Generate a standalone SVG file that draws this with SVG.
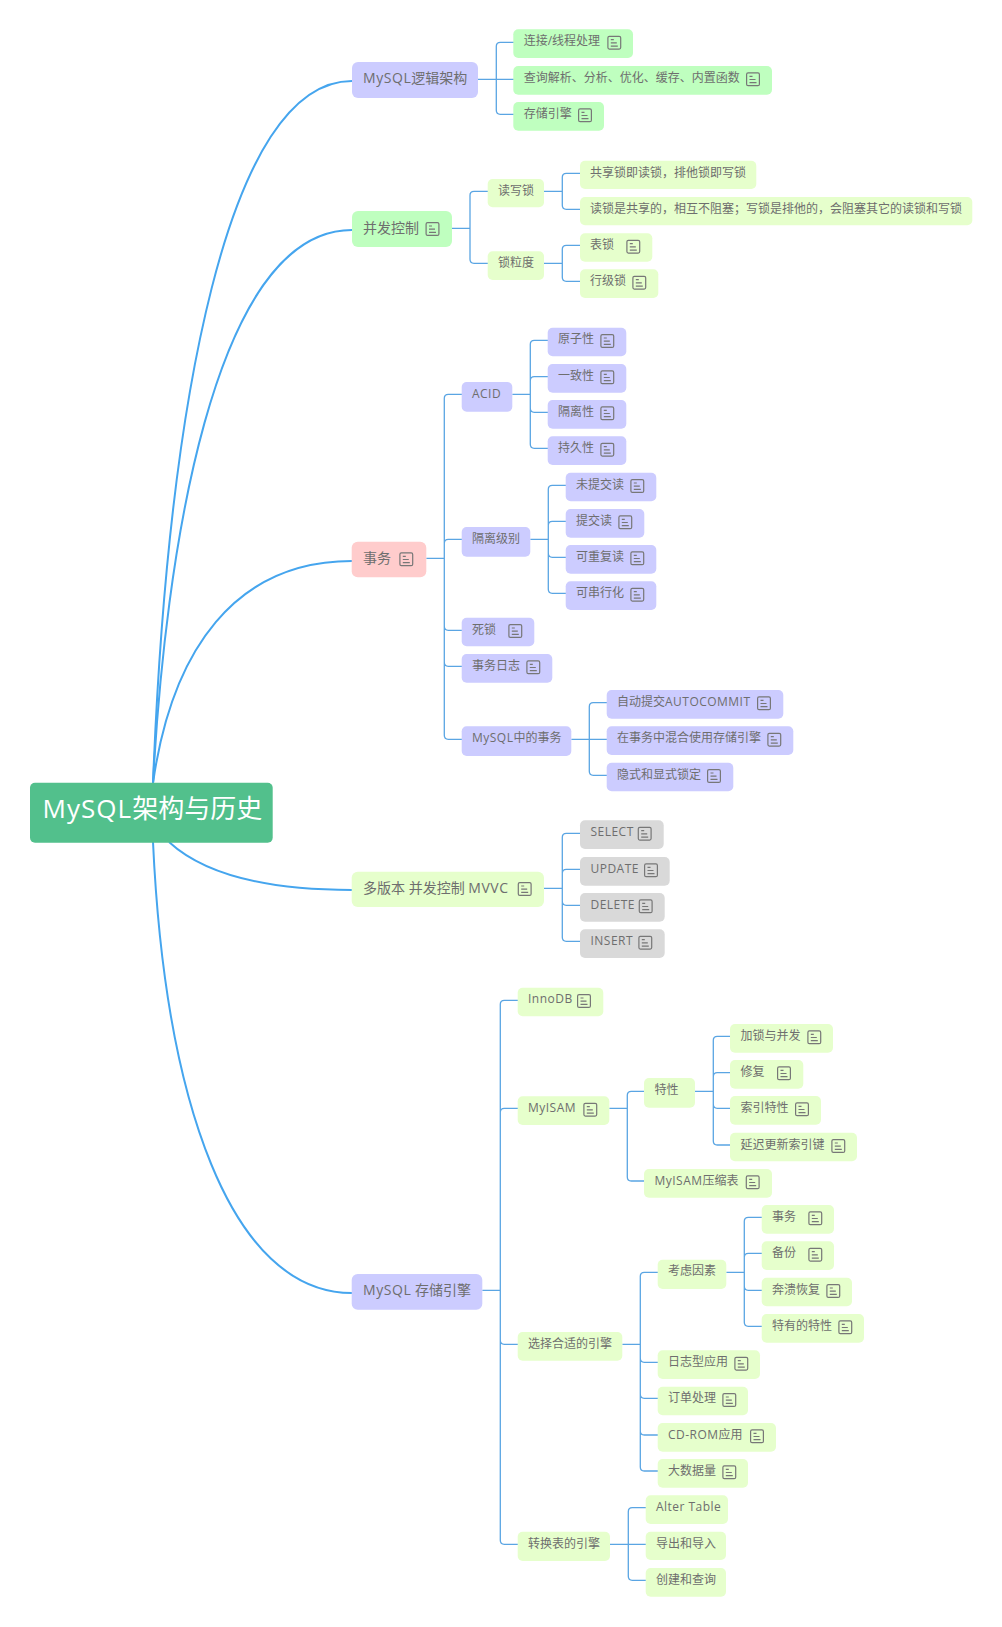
<svg xmlns="http://www.w3.org/2000/svg" width="1002" height="1627" viewBox="0 0 1002 1627">
<style>
text{font-family:"Open Sans","Noto Sans CJK SC","Liberation Sans",sans-serif;font-size:12px;fill:#6e6e6e}
.l1{font-size:14px}
.root{font-size:26px;fill:#fff}
.la{letter-spacing:.04em}
.pu{fill:#ccccff}.gr{fill:#bfffbf}.pk{fill:#ffcccc}.pg{fill:#e6ffcc}.gy{fill:#d9d9d9}.rt{fill:#52c08c}
#connectors path{fill:none;stroke:#5aa5e3;stroke-width:1.3}
#connectors .main{stroke:#45a5ee;stroke-width:2}
.ic{fill:none;stroke:#777;stroke-width:1.2}
</style>
<defs>
<g id="note"><rect class="ic" x=".6" y=".6" width="12.8" height="12.8" rx="1.5"/><path class="ic" d="M3.5 4H6.5M3.5 7.2H9.5M3.5 10.4H10.5"/></g>
</defs>
<rect width="1002" height="1627" fill="#fff"/>
<g id="connectors">
<path class="main" d="M153 783C168 400 228 81 352 81"/>
<path class="main" d="M153 783C165 560 212 230 352 230"/>
<path class="main" d="M153 783C172 650 235 561 352 561"/>
<path class="main" d="M169 842C205 875 270 890 352 890"/>
<path class="main" d="M153 842C165 1100 230 1293 352 1293"/>
<path d="M478 79.3H496.3M496.3 79.3V46.3Q496.3 42.3 500.3 42.3H514M496.3 79.3H514M496.3 79.3V110.3Q496.3 114.3 500.3 114.3H514"/>
<path d="M452 228.3H470M470 228.3V195.3Q470 191.3 474 191.3H488M470 228.3V259.3Q470 263.3 474 263.3H488"/>
<path d="M544 191.3H562.3M562.3 191.3V177.3Q562.3 173.3 566.3 173.3H580M562.3 191.3V205.3Q562.3 209.3 566.3 209.3H580"/>
<path d="M544 263.3H562.3M562.3 263.3V249.3Q562.3 245.3 566.3 245.3H580M562.3 263.3V277.3Q562.3 281.3 566.3 281.3H580"/>
<path d="M426.3 558.3H444.3M444.3 558.3V398.3Q444.3 394.3 448.3 394.3H462M444.3 558.3V543.3Q444.3 539.3 448.3 539.3H462M444.3 558.3V626.3Q444.3 630.3 448.3 630.3H462M444.3 558.3V662.3Q444.3 666.3 448.3 666.3H462M444.3 558.3V735.3Q444.3 739.3 448.3 739.3H462"/>
<path d="M512.3 394.3H530.3M530.3 394.3V344.3Q530.3 340.3 534.3 340.3H548M530.3 394.3V380.7Q530.3 376.7 534.3 376.7H548M530.3 394.3V408.3Q530.3 412.3 534.3 412.3H548M530.3 394.3V444.3Q530.3 448.3 534.3 448.3H548"/>
<path d="M530.3 539.3H548.3M548.3 539.3V489.3Q548.3 485.3 552.3 485.3H566M548.3 539.3V525.3Q548.3 521.3 552.3 521.3H566M548.3 539.3V553.3Q548.3 557.3 552.3 557.3H566M548.3 539.3V589.3Q548.3 593.3 552.3 593.3H566"/>
<path d="M571.3 739.3H607M589.3 739.3V706.7Q589.3 702.7 593.3 702.7H607M589.3 739.3V771.3Q589.3 775.3 593.3 775.3H607"/>
<path d="M544 888.3H562.3M562.3 888.3V837.3Q562.3 833.3 566.3 833.3H580M562.3 888.3V873.3Q562.3 869.3 566.3 869.3H580M562.3 888.3V901.3Q562.3 905.3 566.3 905.3H580M562.3 888.3V937.3Q562.3 941.3 566.3 941.3H580"/>
<path d="M482.3 1290.3H500.3M500.3 1290.3V1004.3Q500.3 1000.3 504.3 1000.3H518M500.3 1290.3V1112.3Q500.3 1108.3 504.3 1108.3H518M500.3 1290.3V1340.3Q500.3 1344.3 504.3 1344.3H518M500.3 1290.3V1540.3Q500.3 1544.3 504.3 1544.3H518"/>
<path d="M609.3 1108.3H627.3M627.3 1108.3V1095.3Q627.3 1091.3 631.3 1091.3H644M627.3 1108.3V1177Q627.3 1181 631.3 1181H644"/>
<path d="M695 1091.3H713.3M713.3 1091.3V1040.3Q713.3 1036.3 717.3 1036.3H730M713.3 1091.3V1076.7Q713.3 1072.7 717.3 1072.7H730M713.3 1091.3V1104.3Q713.3 1108.3 717.3 1108.3H730M713.3 1091.3V1141Q713.3 1145 717.3 1145H730"/>
<path d="M622.3 1344.3H640.3M640.3 1344.3V1276.3Q640.3 1272.3 644.3 1272.3H658M640.3 1344.3V1358.3Q640.3 1362.3 644.3 1362.3H658M640.3 1344.3V1394.3Q640.3 1398.3 644.3 1398.3H658M640.3 1344.3V1431Q640.3 1435 644.3 1435H658M640.3 1344.3V1467Q640.3 1471 644.3 1471H658"/>
<path d="M726.3 1272.3H744.3M744.3 1272.3V1221.3Q744.3 1217.3 748.3 1217.3H762M744.3 1272.3V1257.3Q744.3 1253.3 748.3 1253.3H762M744.3 1272.3V1286.3Q744.3 1290.3 748.3 1290.3H762M744.3 1272.3V1322.3Q744.3 1326.3 748.3 1326.3H762"/>
<path d="M610 1544.3H646M628.3 1544.3V1511.7Q628.3 1507.7 632.3 1507.7H646M628.3 1544.3V1576.3Q628.3 1580.3 632.3 1580.3H646"/>
</g>
<g id="root"><rect class="rt" x="30" y="782.7" width="242.7" height="60" rx="5"/><text class="root" x="42.5" y="818"><tspan class="la">MySQL</tspan>架构与历史</text></g>

<g id="n-logic"><rect class="pu" x="352" y="62" width="126" height="36" rx="6"/><text class="l1" x="363" y="83"><tspan class="la">MySQL</tspan>逻辑架构</text></g>
<g id="n-logic-1"><rect class="gr" x="513.3" y="29.3" width="119.7" height="28.7" rx="5"/><text x="523.7" y="45.3">连接/线程处理</text><use href="#note" x="607.3" y="35.7"/></g>
<g id="n-logic-2"><rect class="gr" x="513.3" y="66" width="258.7" height="28.7" rx="5"/><text x="523.7" y="82">查询解析、分析、优化、缓存、内置函数</text><use href="#note" x="746" y="72.3"/></g>
<g id="n-logic-3"><rect class="gr" x="513.3" y="102" width="90.7" height="28.7" rx="5"/><text x="523.7" y="118">存储引擎</text><use href="#note" x="578" y="108.3"/></g>

<g id="n-conc"><rect class="gr" x="352" y="211" width="100" height="36" rx="6"/><text class="l1" x="363" y="233">并发控制</text><use href="#note" x="425.5" y="222"/></g>
<g id="n-rw"><rect class="pg" x="487.7" y="179" width="56.3" height="28.3" rx="5"/><text x="498" y="195.3">读写锁</text></g>
<g id="n-rw-1"><rect class="pg" x="580" y="160.7" width="176.3" height="28.3" rx="5"/><text x="590" y="176.7">共享锁即读锁，排他锁即写锁</text></g>
<g id="n-rw-2"><rect class="pg" x="580" y="197" width="392.3" height="28.3" rx="5"/><text x="590" y="213">读锁是共享的，相互不阻塞；写锁是排他的，会阻塞其它的读锁和写锁</text></g>
<g id="n-gran"><rect class="pg" x="487.7" y="251.3" width="56.3" height="28.7" rx="5"/><text x="498" y="267.3">锁粒度</text></g>
<g id="n-gran-1"><rect class="pg" x="580" y="233.3" width="72.3" height="28.4" rx="5"/><text x="590" y="249.3">表锁</text><use href="#note" x="626.3" y="239.7"/></g>
<g id="n-gran-2"><rect class="pg" x="580" y="269.3" width="78.3" height="28.7" rx="5"/><text x="590" y="285.3">行级锁</text><use href="#note" x="632.3" y="275.7"/></g>

<g id="n-tx"><rect class="pk" x="351.7" y="541.7" width="74.6" height="35.6" rx="6"/><text class="l1" x="363" y="563">事务</text><use href="#note" x="399.3" y="552.3"/></g>
<g id="n-acid"><rect class="pu" x="461.7" y="382" width="50.6" height="29.7" rx="5"/><text class="la" x="472" y="398">ACID</text></g>
<g id="n-acid-1"><rect class="pu" x="547.7" y="327.7" width="78.6" height="28.6" rx="5"/><text x="558" y="343">原子性</text><use href="#note" x="600.3" y="334"/></g>
<g id="n-acid-2"><rect class="pu" x="547.7" y="364" width="78.6" height="28.7" rx="5"/><text x="558" y="380">一致性</text><use href="#note" x="600.3" y="370.3"/></g>
<g id="n-acid-3"><rect class="pu" x="547.7" y="400" width="78.6" height="28.7" rx="5"/><text x="558" y="416">隔离性</text><use href="#note" x="600.3" y="406.3"/></g>
<g id="n-acid-4"><rect class="pu" x="547.7" y="436.3" width="78.6" height="28.7" rx="5"/><text x="558" y="452.3">持久性</text><use href="#note" x="600.3" y="442.7"/></g>
<g id="n-iso"><rect class="pu" x="461.7" y="527" width="68.6" height="29.7" rx="5"/><text x="472" y="543">隔离级别</text></g>
<g id="n-iso-1"><rect class="pu" x="565.7" y="472.7" width="90.6" height="28.6" rx="5"/><text x="576" y="488.7">未提交读</text><use href="#note" x="630.3" y="479"/></g>
<g id="n-iso-2"><rect class="pu" x="565.7" y="509" width="78.6" height="28.7" rx="5"/><text x="576" y="525">提交读</text><use href="#note" x="618.3" y="515.3"/></g>
<g id="n-iso-3"><rect class="pu" x="565.7" y="545" width="90.6" height="28.7" rx="5"/><text x="576" y="561">可重复读</text><use href="#note" x="630.3" y="551.3"/></g>
<g id="n-iso-4"><rect class="pu" x="565.7" y="581.3" width="90.6" height="28.7" rx="5"/><text x="576" y="597.3">可串行化</text><use href="#note" x="630.3" y="587.7"/></g>
<g id="n-dead"><rect class="pu" x="461.7" y="617.7" width="72.6" height="28.6" rx="5"/><text x="472" y="633.7">死锁</text><use href="#note" x="508.3" y="624"/></g>
<g id="n-log"><rect class="pu" x="461.7" y="654" width="90.6" height="28.7" rx="5"/><text x="472" y="670">事务日志</text><use href="#note" x="526.3" y="660.3"/></g>
<g id="n-mtx"><rect class="pu" x="461.7" y="726.3" width="109.6" height="29.7" rx="5"/><text x="472" y="742.3"><tspan class="la">MySQL</tspan>中的事务</text></g>
<g id="n-mtx-1"><rect class="pu" x="606.7" y="690" width="176.6" height="28.7" rx="5"/><text x="617" y="706">自动提交<tspan class="la">AUTOCOMMIT</tspan></text><use href="#note" x="757" y="696.3"/></g>
<g id="n-mtx-2"><rect class="pu" x="606.7" y="726.3" width="186.6" height="28.7" rx="5"/><text x="617" y="742.3">在事务中混合使用存储引擎</text><use href="#note" x="767.3" y="732.7"/></g>
<g id="n-mtx-3"><rect class="pu" x="606.7" y="762.7" width="126.6" height="28.6" rx="5"/><text x="617" y="778.7">隐式和显式锁定</text><use href="#note" x="707" y="769"/></g>

<g id="n-mvcc"><rect class="pg" x="351.7" y="871.7" width="192.3" height="35.3" rx="6"/><text class="l1" x="363" y="893">多版本 并发控制 <tspan class="la">MVVC</tspan></text><use href="#note" x="517.7" y="882"/></g>
<g id="n-select"><rect class="gy" x="580" y="820.3" width="83.7" height="28.7" rx="5"/><text class="la" x="590.5" y="836.3">SELECT</text><use href="#note" x="637.7" y="826.7"/></g>
<g id="n-update"><rect class="gy" x="580" y="857" width="89.7" height="28.7" rx="5"/><text class="la" x="590.5" y="873">UPDATE</text><use href="#note" x="644" y="863.3"/></g>
<g id="n-delete"><rect class="gy" x="580" y="893" width="84.7" height="28.7" rx="5"/><text class="la" x="590.5" y="909">DELETE</text><use href="#note" x="638.7" y="899.3"/></g>
<g id="n-insert"><rect class="gy" x="580" y="929.3" width="84.7" height="28.7" rx="5"/><text class="la" x="590.5" y="945.3">INSERT</text><use href="#note" x="638.3" y="935.7"/></g>

<g id="n-engine"><rect class="pu" x="351.7" y="1274" width="130.6" height="35.7" rx="6"/><text class="l1" x="363" y="1295"><tspan class="la">MySQL</tspan> 存储引擎</text></g>
<g id="n-innodb"><rect class="pg" x="517.7" y="987.7" width="85.6" height="28.6" rx="5"/><text class="la" x="528" y="1003">InnoDB</text><use href="#note" x="577" y="994"/></g>
<g id="n-myisam"><rect class="pg" x="517.7" y="1096.3" width="91.6" height="28.7" rx="5"/><text class="la" x="528" y="1112.3">MyISAM</text><use href="#note" x="583.3" y="1102.7"/></g>
<g id="n-feat"><rect class="pg" x="644" y="1078" width="51" height="29.7" rx="5"/><text x="654.5" y="1094">特性</text></g>
<g id="n-feat-1"><rect class="pg" x="730" y="1024" width="103" height="28.7" rx="5"/><text x="740.5" y="1040">加锁与并发</text><use href="#note" x="807.3" y="1030.3"/></g>
<g id="n-feat-2"><rect class="pg" x="730" y="1060" width="73.3" height="28.7" rx="5"/><text x="740.5" y="1076">修复</text><use href="#note" x="777" y="1066.3"/></g>
<g id="n-feat-3"><rect class="pg" x="730" y="1096" width="91" height="28.7" rx="5"/><text x="740.5" y="1112">索引特性</text><use href="#note" x="795" y="1102.3"/></g>
<g id="n-feat-4"><rect class="pg" x="730" y="1132.7" width="127" height="28.6" rx="5"/><text x="740.5" y="1148.7">延迟更新索引键</text><use href="#note" x="831.3" y="1139"/></g>
<g id="n-comp"><rect class="pg" x="644" y="1169" width="128" height="28.7" rx="5"/><text x="654.5" y="1185"><tspan class="la">MyISAM</tspan>压缩表</text><use href="#note" x="745.7" y="1175.3"/></g>
<g id="n-choose"><rect class="pg" x="517.7" y="1332" width="104.6" height="28.7" rx="5"/><text x="528" y="1348">选择合适的引擎</text></g>
<g id="n-factor"><rect class="pg" x="657.7" y="1259.7" width="68.6" height="29.3" rx="5"/><text x="668" y="1275">考虑因素</text></g>
<g id="n-factor-1"><rect class="pg" x="761.7" y="1205" width="72.3" height="28.7" rx="5"/><text x="772" y="1221">事务</text><use href="#note" x="808.3" y="1211.3"/></g>
<g id="n-factor-2"><rect class="pg" x="761.7" y="1241.3" width="72.3" height="28.7" rx="5"/><text x="772" y="1257.3">备份</text><use href="#note" x="808.3" y="1247.7"/></g>
<g id="n-factor-3"><rect class="pg" x="761.7" y="1277.7" width="90.3" height="28.6" rx="5"/><text x="772" y="1293.7">奔溃恢复</text><use href="#note" x="826.3" y="1284"/></g>
<g id="n-factor-4"><rect class="pg" x="761.7" y="1314" width="102.3" height="28.7" rx="5"/><text x="772" y="1330">特有的特性</text><use href="#note" x="838.3" y="1320.3"/></g>
<g id="n-logapp"><rect class="pg" x="657.7" y="1350.3" width="102.3" height="28.7" rx="5"/><text x="668" y="1366.3">日志型应用</text><use href="#note" x="734.3" y="1356.7"/></g>
<g id="n-order"><rect class="pg" x="657.7" y="1386.7" width="90.3" height="28.6" rx="5"/><text x="668" y="1402">订单处理</text><use href="#note" x="722.3" y="1393"/></g>
<g id="n-cdrom"><rect class="pg" x="657.7" y="1423" width="118.3" height="28.7" rx="5"/><text x="668" y="1439"><tspan class="la">CD-ROM</tspan>应用</text><use href="#note" x="750" y="1429.3"/></g>
<g id="n-big"><rect class="pg" x="657.7" y="1459" width="90.3" height="28.7" rx="5"/><text x="668" y="1475">大数据量</text><use href="#note" x="722.3" y="1465.3"/></g>
<g id="n-convert"><rect class="pg" x="517.7" y="1531.7" width="92.3" height="29.3" rx="5"/><text x="528" y="1547.7">转换表的引擎</text></g>
<g id="n-alter"><rect class="pg" x="645.7" y="1495.3" width="82.3" height="28.7" rx="5"/><text class="la" x="656" y="1511.3">Alter Table</text></g>
<g id="n-export"><rect class="pg" x="645.7" y="1531.7" width="80.3" height="28.3" rx="5"/><text x="656" y="1547.7">导出和导入</text></g>
<g id="n-create"><rect class="pg" x="645.7" y="1568" width="80.3" height="28.7" rx="5"/><text x="656" y="1584">创建和查询</text></g>
</svg>
